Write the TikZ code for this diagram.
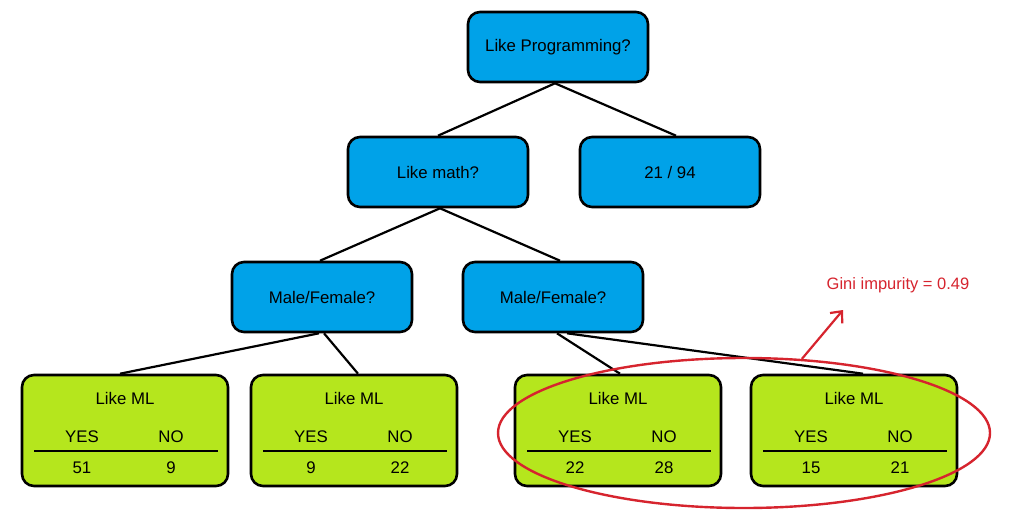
\documentclass[tikz,border=0pt]{standalone}
\usepackage{fontspec}
\setmainfont{Liberation Sans}
\usetikzlibrary{calc,arrows.meta,positioning,shapes.geometric}
\definecolor{paintblue}{RGB}{0,162,232}
\definecolor{paintlime}{RGB}{181,230,29}
\definecolor{paintred}{RGB}{214,36,46}

\begin{document}
\begin{tikzpicture}[x=1pt,y=-1pt,>=Latex,line width=2.6pt,
  every node/.style={font=\fontsize{16.8}{20}\selectfont},
  question/.style={draw,fill=paintblue,rounded corners=12pt,minimum width=180pt,minimum height=70pt,inner sep=0pt},
  leafbox/.style={draw,fill=paintlime,rounded corners=12pt,minimum width=206pt,minimum height=111pt,inner sep=0pt},
  edge/.style={line width=2.2pt}]
  \useasboundingbox (0,0) rectangle (1024,516);

  % --- Question nodes ---
  \node[question] (prog) at (558,47) {Like Programming?};
  \node[question] (math) at (438,172) {Like math?};
  \node[question] (rest) at (670,172) {21 / 94};
  \node[question] (mfA) at (322,297) {Male/Female?};
  \node[question] (mfB) at (553,297) {Male/Female?};

  % --- Leaves: Like ML, YES / NO counts ---
  \foreach \n/\x/\yes/\no in {1/125/51/9, 2/354/9/22, 3/618/22/28, 4/854/15/21}{
    \node[leafbox] (leaf\n) at (\x,430.5) {};
    \node (ml\n) at ($(leaf\n)+(0,-32)$) {Like ML};
    \node (yes\n) at ($(leaf\n)+(-43,6)$) {YES};
    \node (no\n) at ($(leaf\n)+(46,6)$) {NO};
    \draw ($(leaf\n)+(-91,20.5)$) -- ($(leaf\n)+(93,20.5)$);
    \node (cy\n) at ($(leaf\n)+(-43,37)$) {\yes};
    \node (cn\n) at ($(leaf\n)+(46,37)$) {\no};
  }

  % --- Edges ---
  \draw[edge] ($(prog.south)+(-3,0)$) -- (math.north);
  \draw[edge] ($(prog.south)+(-3,0)$) -- ($(rest.north)+(6,0)$);
  \draw[edge] ($(math.south)+(2,0)$) -- ($(mfA.north)+(-2,0)$);
  \draw[edge] ($(math.south)+(2,0)$) -- ($(mfB.north)+(7,0)$);
  \draw[edge] ($(mfA.south)+(-3,0)$) -- ($(leaf1.north)+(-5,0)$);
  \draw[edge] ($(mfA.south)+(2,0)$) -- ($(leaf2.north)+(4,0)$);
  \draw[edge] ($(mfB.south)+(4,0)$) -- ($(leaf3.north)+(2,0)$);
  \draw[edge] ($(mfB.south)+(14,0)$) -- ($(leaf4.north)+(9,0)$);

  % --- Gini annotation ---
  \node[ellipse,draw=paintred,line width=2.4pt,minimum width=492pt,minimum height=150pt] (group) at (744,433) {};
  \node[text=paintred,font=\fontsize{16.5}{20}\selectfont] (gini) at (898,285) {Gini impurity = 0.49};
  \coordinate (gtip) at (843,310);
  \draw[paintred,line width=2.2pt,-{Straight Barb[length=9pt,width=16pt]}] (group.52) -- (gtip);
\end{tikzpicture}
\end{document}
